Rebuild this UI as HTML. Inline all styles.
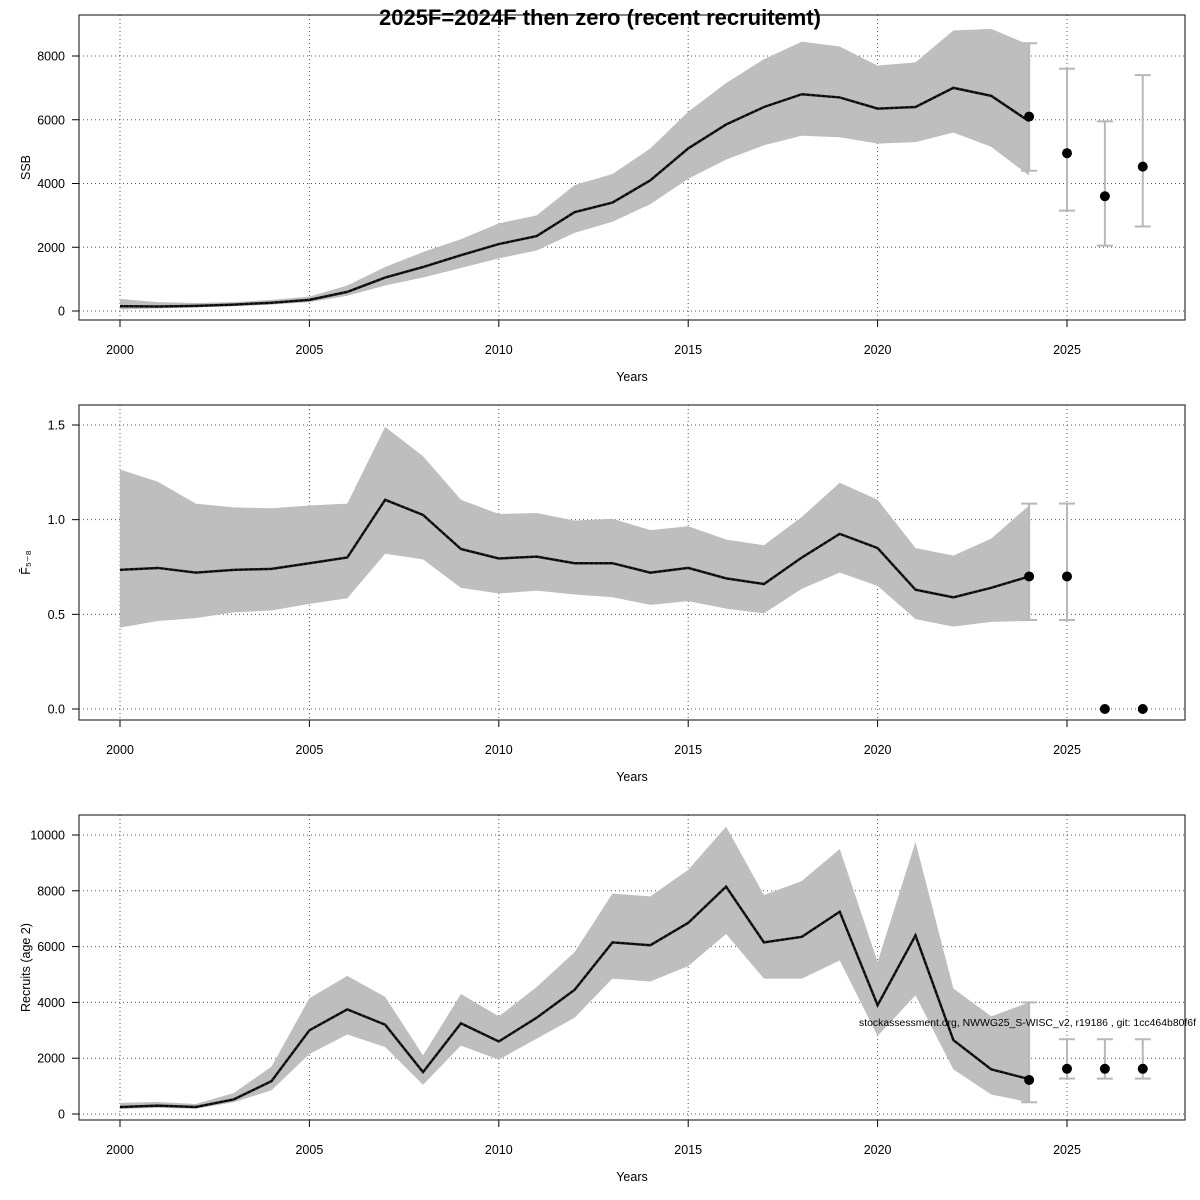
<!DOCTYPE html>
<html><head><meta charset="utf-8"><style>body{margin:0;background:#fff}svg{display:block}</style></head>
<body>
<svg id="s" width="1200" height="1200" xmlns="http://www.w3.org/2000/svg" font-family="Liberation Sans, Arial, sans-serif"></svg>
<script>
const S=document.getElementById('s');let h='';
const X=y=>120+(y-2000)*37.88;
function panel(top,bot,y0,scale,ticks,fmt,label,data,pts){
  const Y=v=>y0-v*scale;
  for(let yr=2000;yr<=2025;yr+=5)h+=`<line x1="${X(yr)}" y1="${top}" x2="${X(yr)}" y2="${bot}" stroke="#555" stroke-dasharray="1,3" stroke-width="1"/>`;
  ticks.forEach(t=>{h+=`<line x1="79" y1="${Y(t)}" x2="1185" y2="${Y(t)}" stroke="#555" stroke-dasharray="1,3" stroke-width="1"/>`;
    h+=`<line x1="72" y1="${Y(t)}" x2="79" y2="${Y(t)}" stroke="#000"/><text x="65" y="${Y(t)+4.5}" font-size="12.5" text-anchor="end">${fmt(t)}</text>`;});
  for(let yr=2000;yr<=2025;yr+=5){h+=`<line x1="${X(yr)}" y1="${bot}" x2="${X(yr)}" y2="${bot+7}" stroke="#000"/><text x="${X(yr)}" y="${bot+34}" font-size="12.5" text-anchor="middle">${yr}</text>`;}
  h+=`<text x="632" y="${bot+61}" font-size="12.5" text-anchor="middle">Years</text>`;
  h+=`<text transform="translate(30,${(top+bot)/2}) rotate(-90)" font-size="12.5" text-anchor="middle">${label}</text>`;
  let up=data.map((d,i)=>`${X(2000+i)},${Y(d[2])}`),lo=data.map((d,i)=>`${X(2000+i)},${Y(d[1])}`).reverse();
  h+=`<polygon points="${up.concat(lo).join(' ')}" fill="#bebebe"/>`;
  const line=data.map((d,i)=>`${X(2000+i)},${Y(d[0])}`).join(' ');
  h+=`<polyline points="${line}" fill="none" stroke="#222" stroke-width="2.5"/>`;
  h+=`<polyline points="${line}" fill="none" stroke="#000" stroke-width="1.5" stroke-dasharray="3,2"/>`;
  pts.forEach(p=>{const x=X(p[0]);
    if(p[2]!=null){h+=`<g stroke="#b8b8b8" stroke-width="2"><line x1="${x}" y1="${Y(p[2])}" x2="${x}" y2="${Y(p[3])}"/><line x1="${x-8}" y1="${Y(p[2])}" x2="${x+8}" y2="${Y(p[2])}"/><line x1="${x-8}" y1="${Y(p[3])}" x2="${x+8}" y2="${Y(p[3])}"/></g>`;}
    h+=`<circle cx="${x}" cy="${Y(p[1])}" r="5" fill="#000"/>`;});
  h+=`<rect x="79" y="${top}" width="1106" height="${bot-top}" fill="none" stroke="#333" stroke-width="1.2"/>`;
}
const ssb=[[150,50,380],[140,80,280],[160,110,250],[200,150,280],[260,200,350],[350,280,450],[600,480,800],[1050,800,1380],[1380,1050,1850],[1750,1350,2250],[2100,1650,2750],[2350,1900,3000],[3100,2450,3950],[3400,2800,4300],[4100,3350,5100],[5100,4150,6250],[5850,4750,7150],[6400,5200,7900],[6800,5500,8450],[6700,5450,8300],[6350,5250,7700],[6400,5300,7800],[7000,5600,8800],[6750,5150,8850],[5950,4250,8350]];
panel(15,320,311,63.75/2000,[0,2000,4000,6000,8000],t=>t,'SSB',ssb,[[2024,6100,4400,8400],[2025,4950,3150,7600],[2026,3600,2050,5950],[2027,4530,2650,7400]]);
const F=[[.735,.43,1.265],[.745,.465,1.2],[.72,.48,1.085],[.735,.51,1.065],[.74,.52,1.06],[.77,.555,1.075],[.80,.585,1.085],[1.105,.82,1.49],[1.025,.79,1.335],[.845,.64,1.105],[.795,.61,1.03],[.805,.625,1.035],[.77,.605,.995],[.77,.59,1.005],[.72,.55,.945],[.745,.57,.965],[.69,.53,.895],[.66,.505,.865],[.80,.635,1.015],[.925,.72,1.195],[.85,.65,1.105],[.63,.475,.85],[.59,.435,.81],[.64,.46,.90],[.70,.465,1.075]];
panel(405,720,709,94.67/0.5,[0,0.5,1,1.5],t=>t.toFixed(1),'F̄₅₋₈',F,[[2024,.70,.47,1.085],[2025,.70,.47,1.085],[2026,0,null],[2027,0,null]]);
const R=[[250,180,400],[300,220,430],[250,190,360],[520,420,750],[1180,850,1700],[3000,2150,4150],[3750,2850,4950],[3200,2400,4200],[1500,1050,2100],[3250,2450,4300],[2600,1950,3500],[3450,2700,4550],[4450,3450,5800],[6150,4850,7900],[6050,4750,7800],[6850,5300,8750],[8150,6450,10300],[6150,4850,7850],[6350,4850,8350],[7250,5500,9500],[3900,2800,5450],[6400,4250,9750],[2650,1600,4500],[1600,700,3500],[1250,420,4000]];
panel(815,1120,1114,55.8/2000,[0,2000,4000,6000,8000,10000],t=>t,'Recruits (age 2)',R,[[2024,1220,420,4000],[2025,1620,1270,2680],[2026,1620,1270,2680],[2027,1620,1270,2680]]);
h+=`<text x="600" y="25" font-size="22" font-weight="bold" text-anchor="middle">2025F=2024F then zero (recent recruitemt)</text>`;
h+=`<text x="859" y="1026" font-size="10.5" textLength="337" lengthAdjust="spacingAndGlyphs">stockassessment.org, NWWG25_S-WISC_v2, r19186 , git: 1cc464b80f6f</text>`;
S.innerHTML=h;
</script>
</body></html>
